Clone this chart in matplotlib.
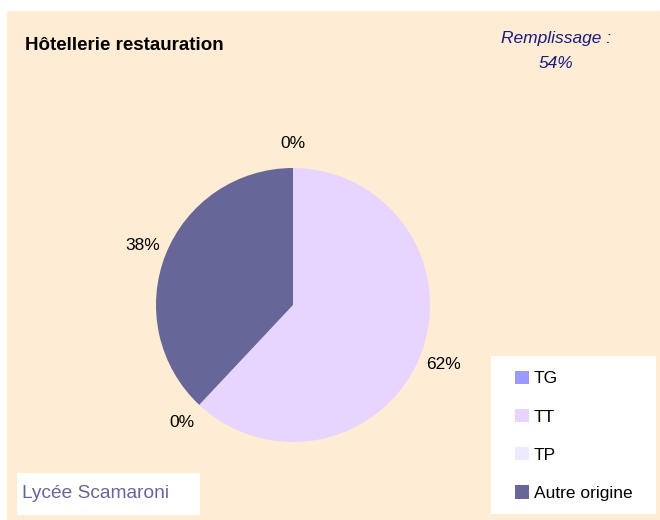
import matplotlib
matplotlib.use("Agg")
import matplotlib.pyplot as plt
from matplotlib.patches import Rectangle

plt.rcParams['font.family'] = ['Liberation Sans', 'DejaVu Sans']

# data
categories = ["TG", "TT", "TP", "Autre origine"]
values = [0, 62, 0, 38]
colors = ["#9999FF", "#E8D5FF", "#ECEAFF", "#666699"]
title = "Hôtellerie restauration"
fill_rate = 54
school = "Lycée Scamaroni"

W, H = 660, 520
fig = plt.figure(figsize=(W / 100, H / 100), dpi=100)
fig.patch.set_facecolor("white")

# beige panel
fig.patches.append(Rectangle((7 / W, 0), 1, (H - 11) / H, transform=fig.transFigure,
                             facecolor="#FEECD4", edgecolor="none", zorder=-2))

# pie axes, centre (293,305) px, radius 137 px
r = 137
side = 2.5 * r
ax = fig.add_axes([(293 - side / 2) / W, (H - 305 - side / 2) / H, side / W, side / H])
ax.set_facecolor("none")
ax.set_zorder(1)
total = sum(values)
labels = [f"{round(v * 100 / total)}%" for v in values]
wedges, texts = ax.pie(values, labels=labels, colors=colors, startangle=90,
                       counterclock=False, labeldistance=1.18,
                       textprops=dict(fontsize=12.5, color="black"))
for t in texts:
    t.set_ha("center")
    t.set_va("center")
ax.set_xlim(-1.25, 1.25)
ax.set_ylim(-1.25, 1.25)
ax.set_aspect("equal")

# title
fig.text(25 / W, 1 - 46 / H, title, fontsize=13.5, fontweight="bold",
         ha="left", va="center", color="black")
fig.text(556 / W, 1 - 38 / H, "Remplissage :", fontsize=12.5, style="italic",
         ha="center", va="center", color="#1A1A80")
fig.text(556 / W, 1 - 64 / H, f"{fill_rate}%", fontsize=12.5, style="italic",
         ha="center", va="center", color="#1A1A80")

# legend box
fig.patches.append(Rectangle((491 / W, 1 - 514 / H), 165 / W, 158 / H,
                             transform=fig.transFigure, facecolor="white",
                             edgecolor="none", zorder=2))
leg = fig.legend(wedges, categories, loc="upper left",
                 bbox_to_anchor=(499 / W, 1 - 355 / H), frameon=False,
                 fontsize=12.5, handlelength=0.8, handleheight=0.8,
                 handletextpad=0.3, labelspacing=1.3)
leg.set_zorder(3)

# school box
fig.patches.append(Rectangle((17 / W, 1 - 515 / H), 183 / W, 42 / H,
                             transform=fig.transFigure, facecolor="white",
                             edgecolor="none", zorder=2))
fig.text(22 / W, 1 - 493 / H, school, fontsize=13.8, color="#666699",
         ha="left", va="center", zorder=3)

fig.savefig("out.png", dpi=100)
